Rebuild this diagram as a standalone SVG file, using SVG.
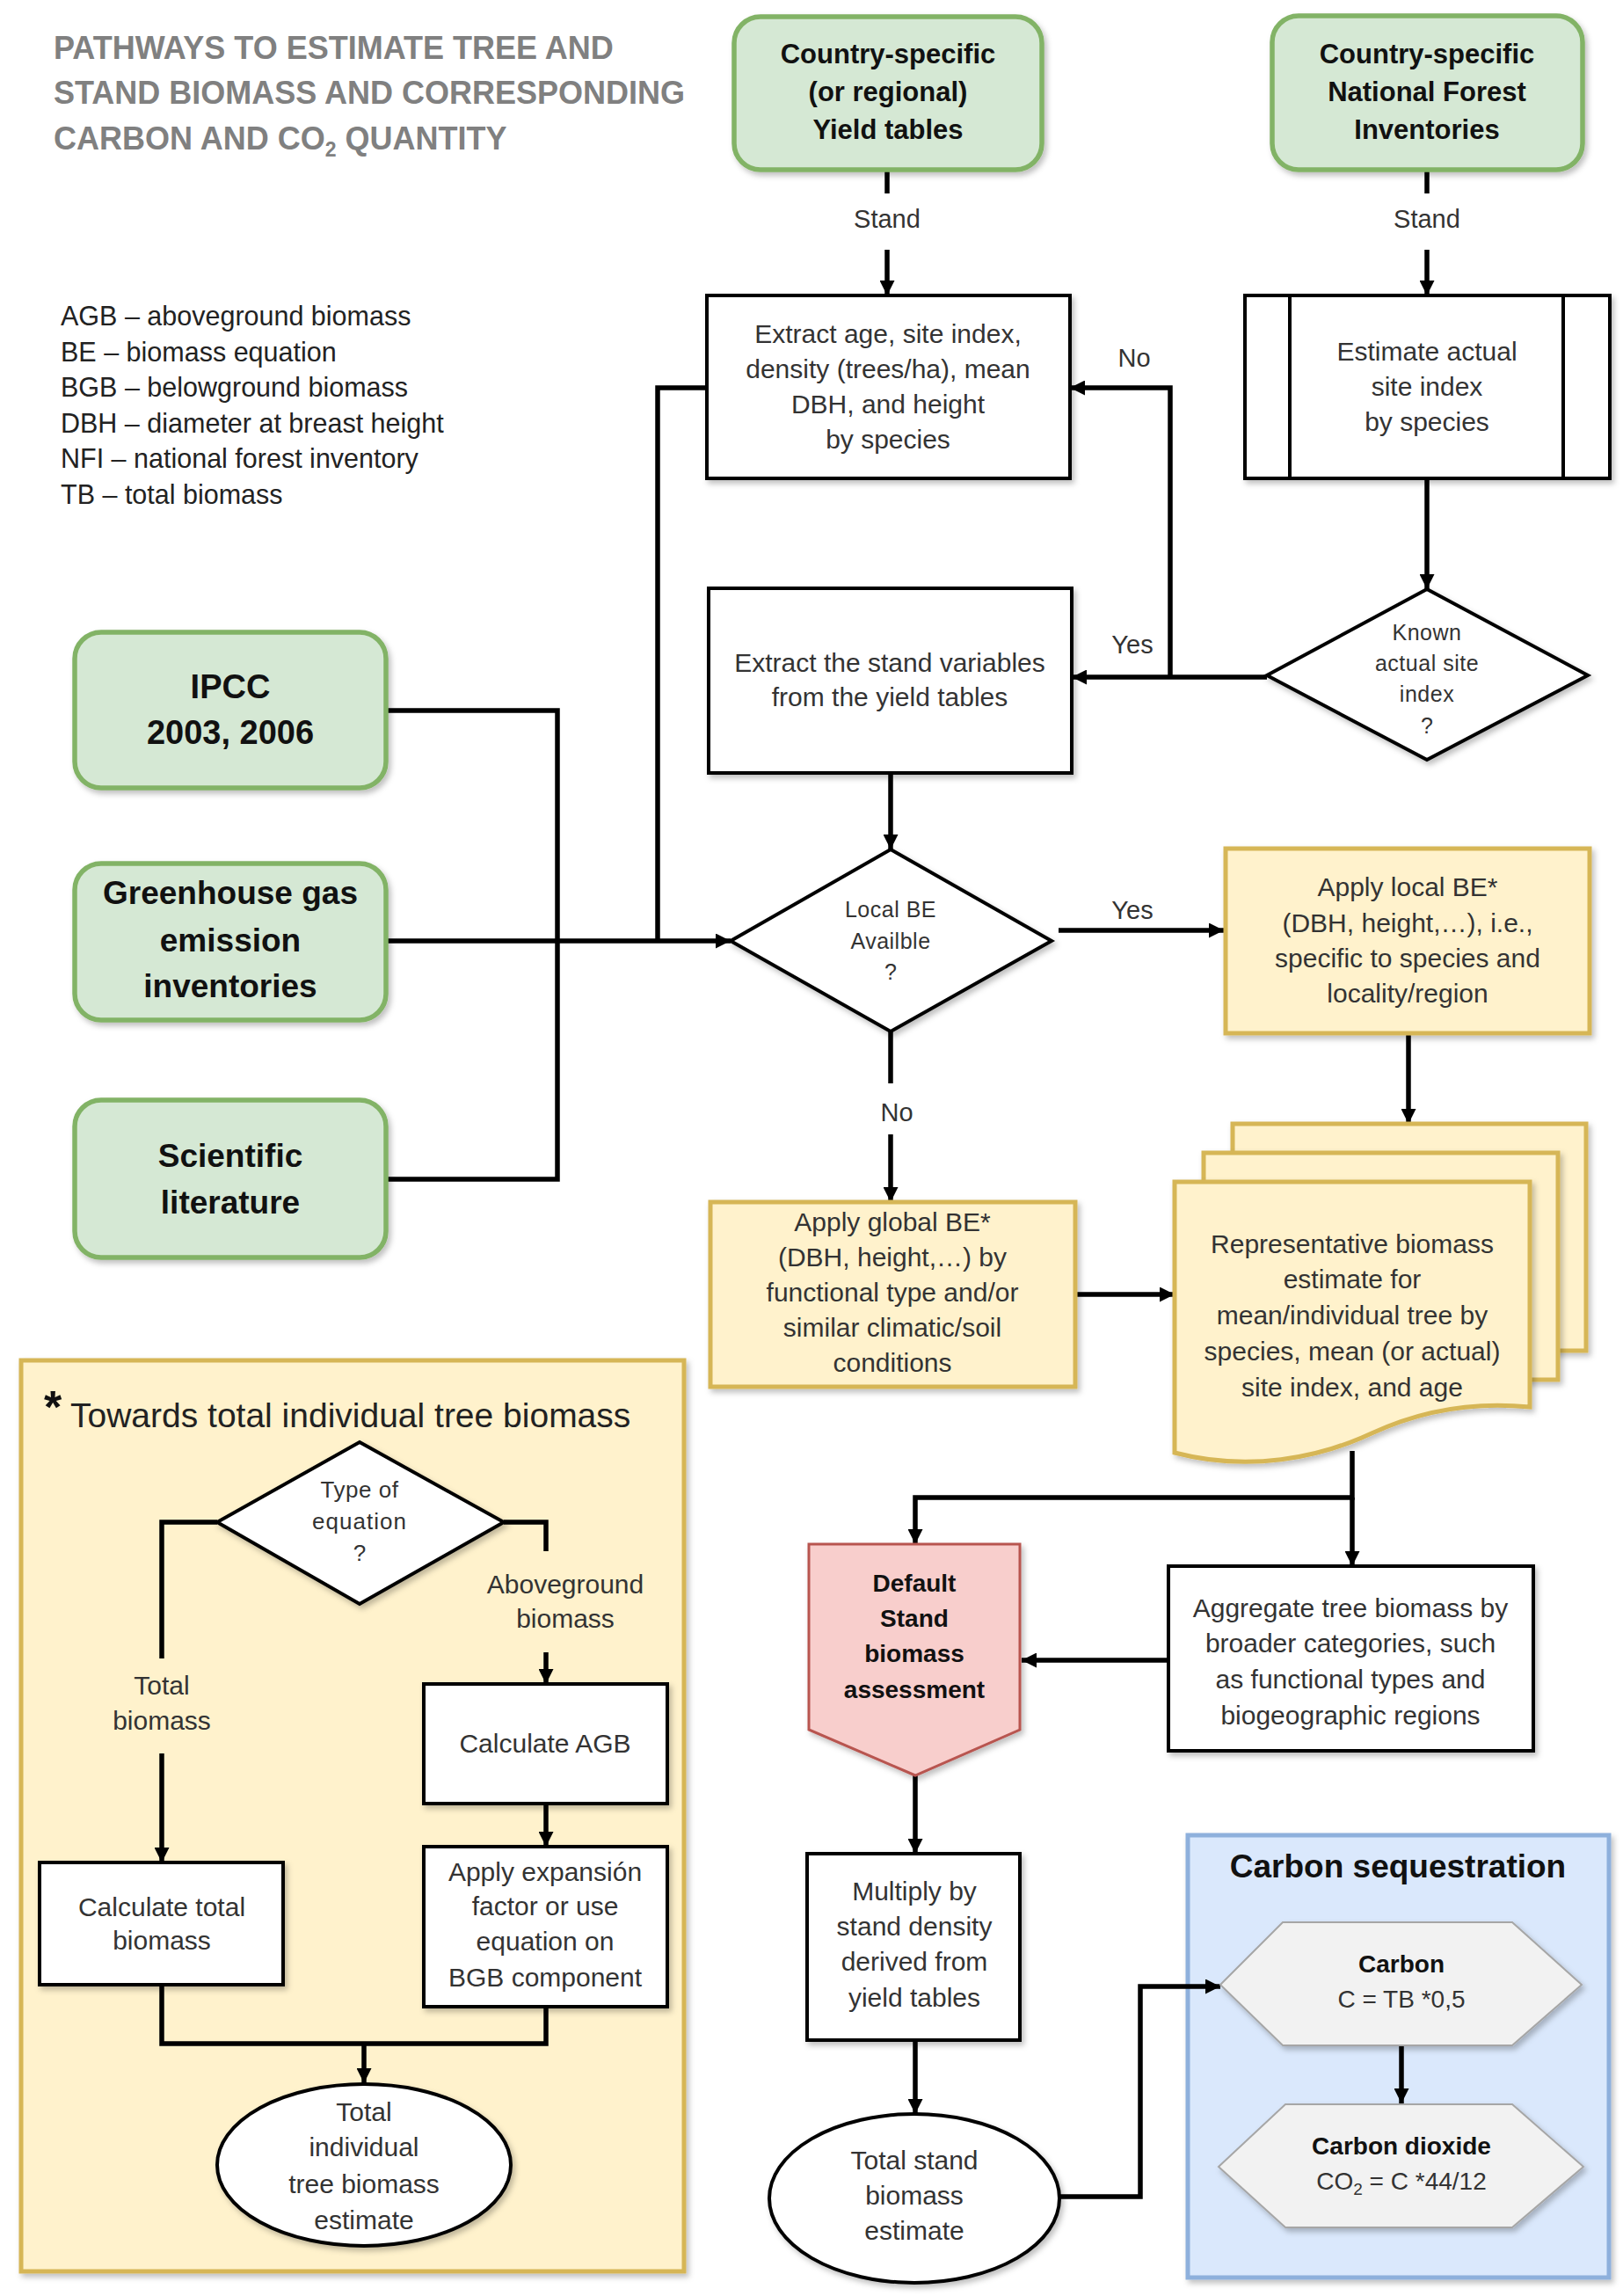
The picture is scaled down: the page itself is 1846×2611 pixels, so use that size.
<svg xmlns="http://www.w3.org/2000/svg" width="1846" height="2611" viewBox="0 0 1846 2611">
<defs>
<style>
.t{font-family:'Liberation Sans',Arial,sans-serif;font-size:30px;fill:#333;text-anchor:middle}
.b{font-weight:bold;fill:#111}
.lg{text-anchor:start;fill:#222;font-size:30.5px}
.box{fill:#fff;stroke:#000;stroke-width:4}
.green{fill:#d5e8d4;stroke:#82b366;stroke-width:5.5}
.yel{fill:#fff2cc;stroke:#d6b656;stroke-width:5}
.pink{fill:#f8cecc;stroke:#b85450;stroke-width:3}
.hex{fill:#f2f2f2;stroke:#a6a6a6;stroke-width:2}
.conn path{fill:none;stroke:#000;stroke-width:5.5}
.conn .a{marker-end:url(#ah)}
</style>
<marker id="ah" viewBox="0 0 16 16" refX="16" refY="8" markerWidth="17" markerHeight="17" markerUnits="userSpaceOnUse" orient="auto"><path d="M0,0 L16,8 L0,16 z" fill="#000"/></marker>
<filter id="sh" x="-10%" y="-10%" width="125%" height="125%"><feDropShadow dx="3" dy="4" stdDeviation="3" flood-color="#000" flood-opacity="0.25"/></filter>
</defs>
<rect width="1846" height="2611" fill="#fff"/>

<g id="title">
<text class="t b" style="text-anchor:start;fill:#808080;font-size:36px" x="61" y="67">PATHWAYS TO ESTIMATE TREE AND</text>
<text class="t b" style="text-anchor:start;fill:#808080;font-size:36px" x="61" y="118">STAND BIOMASS AND CORRESPONDING</text>
<text class="t b" style="text-anchor:start;fill:#808080;font-size:36px" x="61" y="170">CARBON AND CO<tspan font-size="23" dy="8">2</tspan><tspan dy="-8"> QUANTITY</tspan></text>
</g>

<g id="legend">
<text class="t lg" x="69" y="370">AGB – aboveground biomass</text>
<text class="t lg" x="69" y="411">BE – biomass equation</text>
<text class="t lg" x="69" y="451">BGB – belowground biomass</text>
<text class="t lg" x="69" y="492">DBH – diameter at breast height</text>
<text class="t lg" x="69" y="532">NFI – national forest inventory</text>
<text class="t lg" x="69" y="573">TB – total biomass</text>
</g>

<g id="tree-panel">
<rect x="24" y="1547" width="754" height="1036" class="yel" stroke-width="6" filter="url(#sh)"/>
<text class="t b" style="text-anchor:start;font-size:52px;fill:#111" x="50" y="1618">*</text>
<text class="t" style="text-anchor:start;font-size:39px;fill:#222" x="80" y="1623">Towards total individual tree biomass</text>
</g>

<g id="carbon-panel">
<rect x="1351" y="2087" width="479" height="503" fill="#dae8fc" stroke="#8eb0dc" stroke-width="5" filter="url(#sh)"/>
<text class="t b" style="font-size:37px" x="1590" y="2135">Carbon sequestration</text>
</g>

<g class="conn" id="connectors">
<path d="M1009,193 L1009,220"/>
<path class="a" d="M1009,284 L1009,336"/>
<path d="M1623,193 L1623,220"/>
<path class="a" d="M1623,284 L1623,336"/>
<path class="a" d="M1623,544 L1623,670"/>
<path class="a" d="M1441,770 L1219,770"/>
<path class="a" d="M1331,770 L1331,441 L1217,441"/>
<path class="a" d="M1013,879 L1013,966"/>
<path d="M804,441 L748,441 L748,1070"/>
<path d="M439,808 L634,808 L634,1341 L439,1341"/>
<path class="a" d="M439,1070 L831,1070"/>
<path class="a" d="M1204,1058 L1392,1058"/>
<path d="M1013,1173 L1013,1232"/>
<path class="a" d="M1013,1290 L1013,1367"/>
<path class="a" d="M1602,1175 L1602,1278"/>
<path class="a" d="M1223,1472 L1336,1472"/>
<path class="a" d="M1538,1650 L1538,1703 L1041,1703 L1041,1756"/>
<path class="a" d="M1538,1703 L1538,1781"/>
<path class="a" d="M1329,1888 L1162,1888"/>
<path class="a" d="M1041,2019 L1041,2108"/>
<path class="a" d="M1041,2320 L1041,2404"/>
<path class="a" d="M1205,2498 L1297,2498 L1297,2259 L1388,2259"/>
<path class="a" d="M1594,2326 L1594,2392"/>
<path d="M247,1731 L184,1731 L184,1886"/>
<path class="a" d="M184,1994 L184,2118"/>
<path d="M573,1731 L621,1731 L621,1764"/>
<path class="a" d="M621,1879 L621,1915"/>
<path class="a" d="M621,2051 L621,2100"/>
<path d="M184,2257 L184,2324 L621,2324 L621,2282"/>
<path class="a" d="M414,2324 L414,2369"/>
</g>

<g id="lbl">
<text class="t" style="font-size:29px" x="1009" y="259">Stand</text>
<text class="t" style="font-size:29px" x="1623" y="259">Stand</text>
<text class="t" style="font-size:29px" x="1290" y="417">No</text>
<text class="t" style="font-size:29px" x="1288" y="743">Yes</text>
<text class="t" style="font-size:29px" x="1288" y="1045">Yes</text>
<text class="t" style="font-size:29px" x="1020" y="1275">No</text>
<text class="t" x="184" y="1927">Total</text>
<text class="t" x="184" y="1967">biomass</text>
<text class="t" x="643" y="1812">Aboveground</text>
<text class="t" x="643" y="1851">biomass</text>
</g>

<g id="yield">
<rect x="835" y="19" width="350" height="174" rx="30" class="green" filter="url(#sh)"/>
<text class="t b" style="font-size:31px" x="1010" y="72">Country-specific</text>
<text class="t b" style="font-size:31px" x="1010" y="115">(or regional)</text>
<text class="t b" style="font-size:31px" x="1010" y="158">Yield tables</text>
</g>

<g id="nfi">
<rect x="1447" y="18" width="353" height="175" rx="30" class="green" filter="url(#sh)"/>
<text class="t b" style="font-size:31px" x="1623" y="72">Country-specific</text>
<text class="t b" style="font-size:31px" x="1623" y="115">National Forest</text>
<text class="t b" style="font-size:31px" x="1623" y="158">Inventories</text>
</g>

<g id="extract">
<rect x="804" y="336" width="413" height="208" class="box" filter="url(#sh)"/>
<text class="t" x="1010" y="390">Extract age, site index,</text>
<text class="t" x="1010" y="430">density (trees/ha), mean</text>
<text class="t" x="1010" y="470">DBH, and height</text>
<text class="t" x="1010" y="510">by species</text>
</g>

<g id="estimate-si">
<rect x="1416" y="336" width="415" height="208" class="box" filter="url(#sh)"/>
<line x1="1467" y1="336" x2="1467" y2="544" stroke="#000" stroke-width="4"/>
<line x1="1778" y1="336" x2="1778" y2="544" stroke="#000" stroke-width="4"/>
<text class="t" x="1623" y="410">Estimate actual</text>
<text class="t" x="1623" y="450">site index</text>
<text class="t" x="1623" y="490">by species</text>
</g>

<g id="known-si">
<polygon points="1623,670 1806,768 1623,864 1441,768" class="box" filter="url(#sh)"/>
<text class="t" style="font-size:25px;letter-spacing:0.5px" x="1623" y="728">Known</text>
<text class="t" style="font-size:25px;letter-spacing:0.5px" x="1623" y="763">actual site</text>
<text class="t" style="font-size:25px;letter-spacing:0.5px" x="1623" y="798">index</text>
<text class="t" style="font-size:25px" x="1623" y="834">?</text>
</g>

<g id="extract-stand">
<rect x="806" y="669" width="413" height="210" class="box" filter="url(#sh)"/>
<text class="t" x="1012" y="764">Extract the stand variables</text>
<text class="t" x="1012" y="803">from the yield tables</text>
</g>

<g id="ipcc">
<rect x="85" y="719" width="354" height="177" rx="30" class="green" filter="url(#sh)"/>
<text class="t b" style="font-size:38px" x="262" y="794">IPCC</text>
<text class="t b" style="font-size:38px" x="262" y="846">2003, 2006</text>
</g>

<g id="ghg">
<rect x="85" y="982" width="354" height="178" rx="30" class="green" filter="url(#sh)"/>
<text class="t b" style="font-size:37px" x="262" y="1028">Greenhouse gas</text>
<text class="t b" style="font-size:37px" x="262" y="1082">emission</text>
<text class="t b" style="font-size:37px" x="262" y="1134">inventories</text>
</g>

<g id="sci">
<rect x="85" y="1251" width="354" height="179" rx="30" class="green" filter="url(#sh)"/>
<text class="t b" style="font-size:37px" x="262" y="1327">Scientific</text>
<text class="t b" style="font-size:37px" x="262" y="1380">literature</text>
</g>

<g id="local-be">
<polygon points="1013,966 1196,1070 1013,1173 831,1070" class="box" filter="url(#sh)"/>
<text class="t" style="font-size:25px;letter-spacing:0.5px" x="1013" y="1043">Local BE</text>
<text class="t" style="font-size:25px;letter-spacing:0.5px" x="1013" y="1079">Availble</text>
<text class="t" style="font-size:25px" x="1013" y="1114">?</text>
</g>

<g id="apply-local">
<rect x="1394" y="965" width="414" height="210" class="yel" filter="url(#sh)"/>
<text class="t" x="1601" y="1019">Apply local BE*</text>
<text class="t" x="1601" y="1060">(DBH, height,…), i.e.,</text>
<text class="t" x="1601" y="1100">specific to species and</text>
<text class="t" x="1601" y="1140">locality/region</text>
</g>

<g id="apply-global">
<rect x="808" y="1367" width="415" height="210" class="yel" filter="url(#sh)"/>
<text class="t" x="1015" y="1400">Apply global BE*</text>
<text class="t" x="1015" y="1440">(DBH, height,…) by</text>
<text class="t" x="1015" y="1480">functional type and/or</text>
<text class="t" x="1015" y="1520">similar climatic/soil</text>
<text class="t" x="1015" y="1560">conditions</text>
</g>

<g id="representative">
<rect x="1402" y="1278" width="402" height="258" class="yel" filter="url(#sh)"/>
<rect x="1369" y="1311" width="403" height="258" class="yel" filter="url(#sh)"/>
<path d="M1336,1344 L1740,1344 L1740,1600 C1680,1594 1620,1602 1560,1630 C1500,1658 1420,1674 1336,1652 Z" class="yel" filter="url(#sh)"/>
<text class="t" x="1538" y="1425">Representative biomass</text>
<text class="t" x="1538" y="1465">estimate for</text>
<text class="t" x="1538" y="1506">mean/individual tree by</text>
<text class="t" x="1538" y="1547">species, mean (or actual)</text>
<text class="t" x="1538" y="1588">site index, and age</text>
</g>

<g id="default-stand">
<polygon points="920,1756 1160,1756 1160,1967 1041,2019 920,1967" class="pink" filter="url(#sh)"/>
<text class="t b" style="font-size:28px" x="1040" y="1810">Default</text>
<text class="t b" style="font-size:28px" x="1040" y="1850">Stand</text>
<text class="t b" style="font-size:28px" x="1040" y="1890">biomass</text>
<text class="t b" style="font-size:28px" x="1040" y="1931">assessment</text>
</g>

<g id="aggregate">
<rect x="1329" y="1781" width="415" height="210" class="box" filter="url(#sh)"/>
<text class="t" x="1536" y="1839">Aggregate tree biomass by</text>
<text class="t" x="1536" y="1879">broader categories, such</text>
<text class="t" x="1536" y="1920">as functional types and</text>
<text class="t" x="1536" y="1961">biogeographic regions</text>
</g>

<g id="multiply">
<rect x="918" y="2108" width="242" height="212" class="box" filter="url(#sh)"/>
<text class="t" x="1040" y="2161">Multiply by</text>
<text class="t" x="1040" y="2201">stand density</text>
<text class="t" x="1040" y="2241">derived from</text>
<text class="t" x="1040" y="2282">yield tables</text>
</g>

<g id="total-stand">
<ellipse cx="1040" cy="2500" rx="165" ry="96" class="box" filter="url(#sh)"/>
<text class="t" x="1040" y="2467">Total stand</text>
<text class="t" x="1040" y="2507">biomass</text>
<text class="t" x="1040" y="2547">estimate</text>
</g>

<g id="carbon">
<polygon points="1388,2257 1459,2186 1720,2186 1799,2257 1720,2326 1459,2326" class="hex" filter="url(#sh)"/>
<text class="t b" style="font-size:28px" x="1594" y="2243">Carbon</text>
<text class="t" style="font-size:28px" x="1594" y="2283">C = TB *0,5</text>
</g>

<g id="co2">
<polygon points="1386,2464 1462,2393 1720,2393 1801,2464 1720,2533 1462,2533" class="hex" filter="url(#sh)"/>
<text class="t b" style="font-size:28px" x="1594" y="2450">Carbon dioxide</text>
<text class="t" style="font-size:28px" x="1594" y="2490">CO<tspan font-size="19" dy="6">2</tspan><tspan dy="-6"> = C *44/12</tspan></text>
</g>

<g id="type-eq">
<polygon points="409,1640 573,1731 409,1824 247,1731" class="box" filter="url(#sh)"/>
<text class="t" style="font-size:26px;letter-spacing:0.5px" x="409" y="1703">Type of</text>
<text class="t" style="font-size:26px;letter-spacing:1px" x="409" y="1739">equation</text>
<text class="t" style="font-size:26px" x="409" y="1775">?</text>
</g>

<g id="calc-agb">
<rect x="482" y="1915" width="277" height="136" class="box" filter="url(#sh)"/>
<text class="t" x="620" y="1993">Calculate AGB</text>
</g>

<g id="apply-exp">
<rect x="482" y="2100" width="277" height="182" class="box" filter="url(#sh)"/>
<text class="t" x="620" y="2139">Apply expansión</text>
<text class="t" x="620" y="2178">factor or use</text>
<text class="t" x="620" y="2218">equation on</text>
<text class="t" x="620" y="2259">BGB component</text>
</g>

<g id="calc-total">
<rect x="45" y="2118" width="277" height="139" class="box" filter="url(#sh)"/>
<text class="t" x="184" y="2179">Calculate total</text>
<text class="t" x="184" y="2217">biomass</text>
</g>

<g id="total-tree">
<ellipse cx="414" cy="2462" rx="167" ry="92" class="box" filter="url(#sh)"/>
<text class="t" x="414" y="2412">Total</text>
<text class="t" x="414" y="2452">individual</text>
<text class="t" x="414" y="2494">tree biomass</text>
<text class="t" x="414" y="2535">estimate</text>
</g>
</svg>
